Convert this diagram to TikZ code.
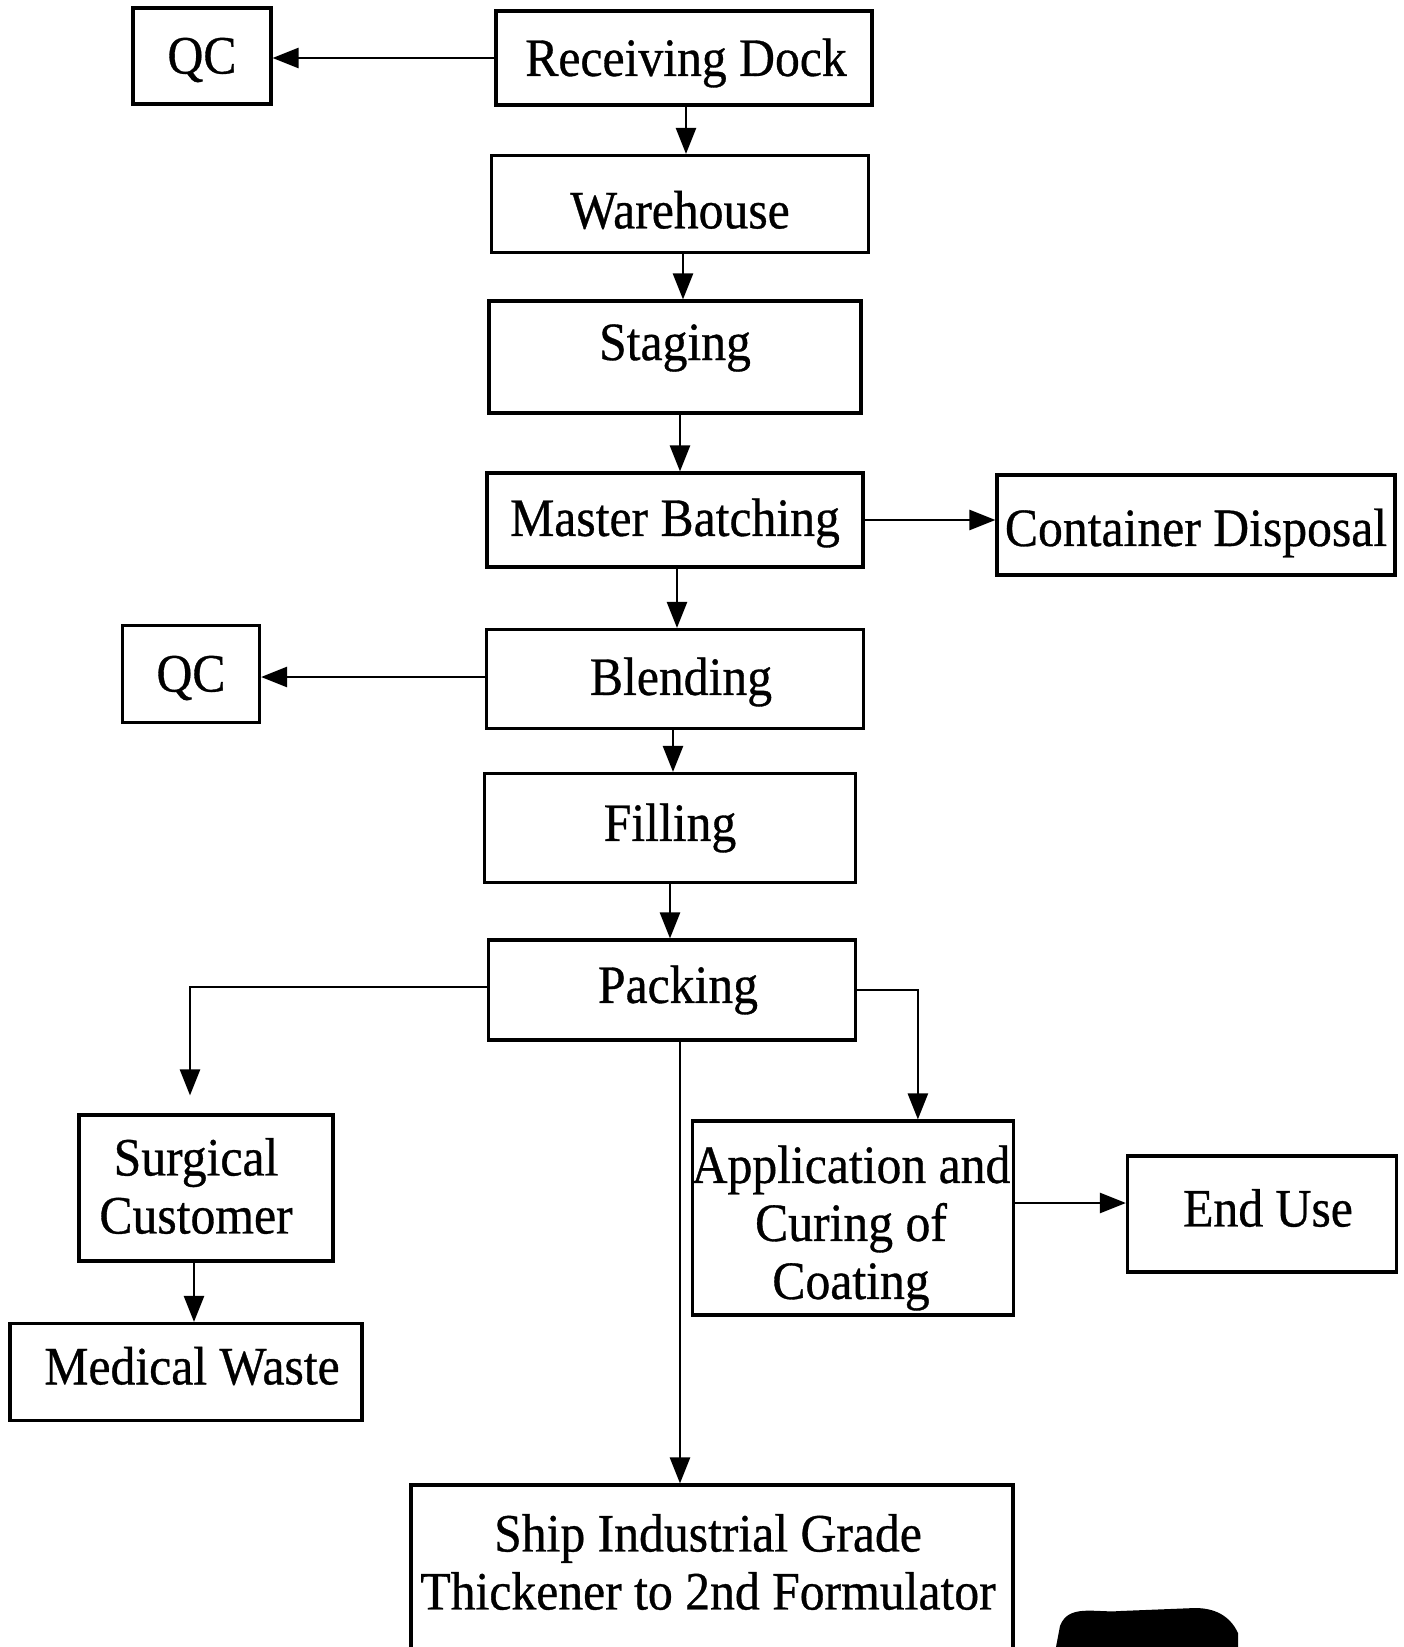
\documentclass[tikz,border=0pt]{standalone}
\usepackage{fontspec}
\setmainfont[FakeStretch=0.92,FakeBold=0.6]{Liberation Serif}
\usetikzlibrary{arrows.meta,calc}
\newcommand\boxfont{\fontsize{54pt}{58pt}\selectfont}
\begin{document}
\begin{tikzpicture}[x=1pt,y=-1pt,
  box/.style={draw,line width=3.2pt,rectangle,inner sep=0pt},
  lbl/.style={inner sep=0pt,align=center,font=\boxfont},
  arr/.style={line width=2.6pt,-{Triangle[length=26pt,width=20pt]}}]
\useasboundingbox (0,0) rectangle (1404,1647);

% process boxes
\node[box,minimum width=138pt,minimum height=96pt] (qca) at (202,56) {};
\node[box,minimum width=376pt,minimum height=94pt] (rd) at (684,58) {};
\node[box,minimum width=377pt,minimum height=97pt] (wh) at (680,204) {};
\node[box,minimum width=372pt,minimum height=112pt] (stg) at (675,357) {};
\node[box,minimum width=376pt,minimum height=94pt] (mb) at (675,520) {};
\node[box,minimum width=398pt,minimum height=100pt] (cd) at (1196,525) {};
\node[box,minimum width=137pt,minimum height=97pt] (qcb) at (191,674) {};
\node[box,minimum width=377pt,minimum height=99pt] (bl) at (675,679) {};
\node[box,minimum width=371pt,minimum height=109pt] (fi) at (670,828) {};
\node[box,minimum width=367pt,minimum height=100pt] (pk) at (672,990) {};
\node[box,minimum width=254pt,minimum height=146pt] (sc) at (206,1188) {};
\node[box,minimum width=352pt,minimum height=97pt] (mw) at (186,1372) {};
\node[box,minimum width=321pt,minimum height=194pt] (app) at (853,1218) {};
\node[box,minimum width=269pt,minimum height=116pt] (eu) at (1262,1214) {};
\node[box,minimum width=602pt,minimum height=170pt] (sh) at (712,1570) {};

% box captions
\node[lbl] (qcaT) at ($(qca)+(0,4)$) {QC};
\node[lbl] (rdT) at ($(rd)+(2,5)$) {Receiving Dock};
\node[lbl] (whT) at ($(wh)+(0,6)$) {Warehouse};
\node[lbl] (stgT) at ($(stg)+(0,-9)$) {Staging};
\node[lbl] (mbT) at ($(mb)+(0,3)$) {Master Batching};
\node[lbl] (cdT) at ($(cd)+(0,8)$) {Container Disposal};
\node[lbl] (qcbT) at ($(qcb)+(0,4)$) {QC};
\node[lbl] (blT) at ($(bl)+(6,3)$) {Blending};
\node[lbl] (fiT) at (fi) {Filling};
\node[lbl] (pkT) at ($(pk)+(6,0)$) {Packing};
\node[lbl] (scT) at ($(sc)+(-10,-2)$) {Surgical\\Customer};
\node[lbl] (mwT) at ($(mw)+(6,-6)$) {Medical Waste};
\node[lbl] (appT) at ($(app)+(-2,10)$) {Application and\\Curing of\\Coating};
\node[lbl] (euT) at ($(eu)+(6,-6)$) {End Use};
\node[lbl] (shT) at ($(sh)+(-4,-8)$) {Ship Industrial Grade\\Thickener to 2nd Formulator};

% connector end points
\coordinate (rdout) at ($(rd.south)+(2,0)$);
\coordinate (whout) at ($(wh.south)+(3,0)$);
\coordinate (stgout) at ($(stg.south)+(5,0)$);
\coordinate (mbout) at ($(mb.south)+(2,0)$);
\coordinate (blout) at ($(bl.south)+(-2,0)$);
\coordinate (blleft) at ($(bl.west)+(0,-2)$);
\coordinate (scin) at ($(sc.north)+(-16,-18)$);
\coordinate (appin) at ($(app.north west)+(227,0)$);
\coordinate (pkleft) at ($(pk.west)+(0,-3)$);
\coordinate (pkout) at ($(pk.south)+(8,0)$);
\coordinate (scout) at ($(sc.south)+(-12,0)$);
\coordinate (appout) at ($(app.east)+(0,-15)$);

% connectors
\draw[arr] (rd.west) -- (qca.east |- rd.west);
\draw[arr] (rdout) -- (rdout |- wh.north);
\draw[arr] (whout) -- (whout |- stg.north);
\draw[arr] (stgout) -- (stgout |- mb.north);
\draw[arr] (mb.east) -- (cd.west |- mb.east);
\draw[arr] (mbout) -- (mbout |- bl.north);
\draw[arr] (blleft) -- (qcb.east |- blleft);
\draw[arr] (blout) -- (blout |- fi.north);
\draw[arr] (fi.south) -- (fi.south |- pk.north);
\draw[arr] (pkleft) -| (scin);
\draw[arr] (pk.east) -| (appin);
\draw[arr] (pkout) -- (pkout |- sh.north);
\draw[arr] (scout) -- (scout |- mw.north);
\draw[arr] (appout) -- (appout -| eu.west);

% dark smudge at the lower right edge
\fill (1056,1647) -- (1060,1626) to[out=70,in=185] (1120,1611)
  -- (1195,1608) to[out=0,in=115] (1238,1633) -- (1238,1647) -- cycle;
\end{tikzpicture}
\end{document}
